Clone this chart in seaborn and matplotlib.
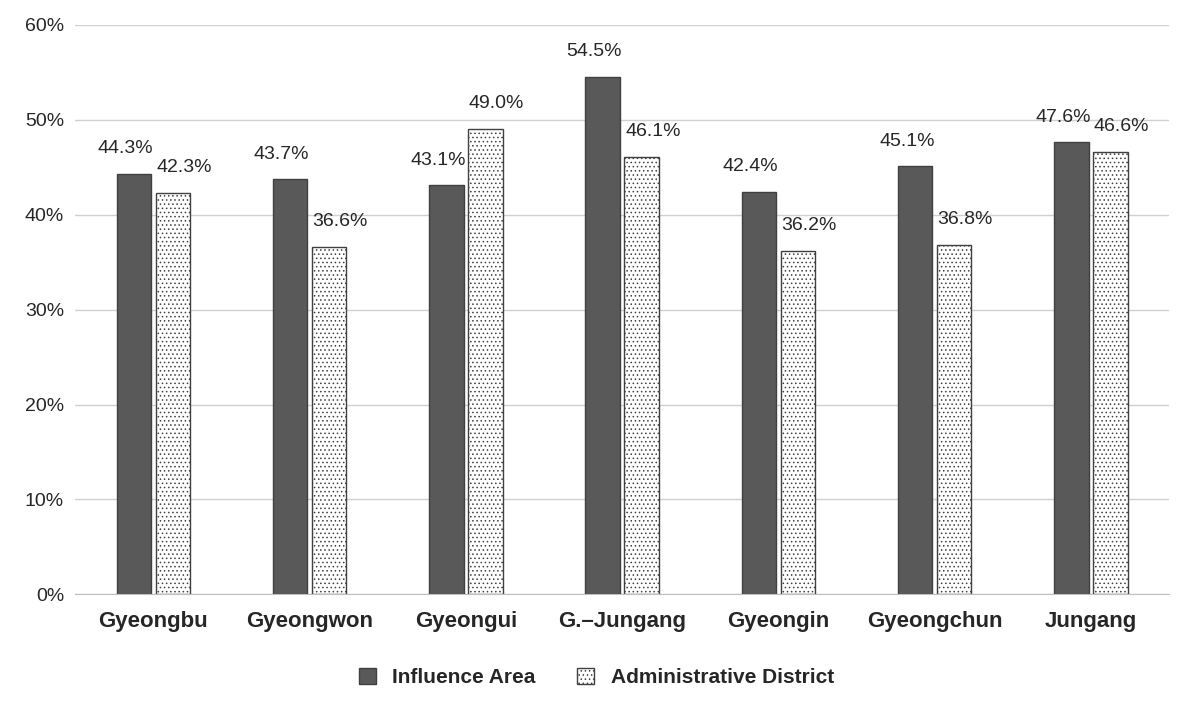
import matplotlib
matplotlib.use("Agg")
import matplotlib.pyplot as plt
import seaborn as sns
import pandas as pd
from matplotlib.patches import Patch

lines = ["Gyeongbu", "Gyeongwon", "Gyeongui", "G.\u2013Jungang", "Gyeongin", "Gyeongchun", "Jungang"]
influence = [44.3, 43.7, 43.1, 54.5, 42.4, 45.1, 47.6]
district = [42.3, 36.6, 49.0, 46.1, 36.2, 36.8, 46.6]
series = ["Influence Area", "Administrative District"]

df = pd.DataFrame({
    "line": lines * 2,
    "value": influence + district,
    "series": [series[0]] * len(lines) + [series[1]] * len(lines),
})

sns.set_style("white")
plt.rcParams["font.family"] = ["Liberation Sans Narrow", "Liberation Sans", "DejaVu Sans"]
plt.rcParams["hatch.color"] = "#555555"
plt.rcParams["hatch.linewidth"] = 0.6

fig, ax = plt.subplots(figsize=(11.93, 7.06), dpi=100)
fig.subplots_adjust(left=0.063, right=0.98, top=0.965, bottom=0.158)

sns.barplot(data=df, x="line", y="value", hue="series", hue_order=series,
            palette=["#595959", "white"], width=0.5, gap=0.12,
            edgecolor="#404040", linewidth=1, legend=False, ax=ax)

for p in ax.containers[1]:
    p.set_hatch("....")

# labels sit slightly outward from each pair, as in the original
for c, dx in zip(ax.containers, [-6, 8]):
    for p, v in zip(c.patches, c.datavalues):
        ax.annotate(f"{v:.1f}%", (p.get_x() + p.get_width() / 2, p.get_height()),
                    xytext=(dx, 12), textcoords="offset points",
                    ha="center", va="bottom", fontsize=14)

ax.set_ylim(0, 60)
ax.set_yticks(range(0, 61, 10))
ax.set_yticklabels([f"{t}%" for t in range(0, 61, 10)], fontsize=14)
ax.yaxis.grid(True, color="#d0d0d0", linewidth=1)
ax.set_axisbelow(True)
ax.tick_params(axis="x", labelsize=16, length=0, pad=12)
for t in ax.get_xticklabels():
    t.set_fontweight("bold")
ax.tick_params(axis="y", length=0, pad=8)
ax.set_xlabel("")
ax.set_ylabel("")
for s in ["top", "right", "left"]:
    ax.spines[s].set_visible(False)
ax.spines["bottom"].set_color("#bfbfbf")

handles = [Patch(facecolor="#595959", edgecolor="#404040"),
           Patch(facecolor="white", edgecolor="#404040", hatch="....")]
leg = fig.legend(handles, series, loc="lower center", ncol=2, frameon=False,
                 bbox_to_anchor=(0.5, 0.0), prop={"size": 15, "weight": "bold"},
                 handlelength=0.8, handleheight=0.8, columnspacing=2)

fig.savefig("out.png", dpi=100)
